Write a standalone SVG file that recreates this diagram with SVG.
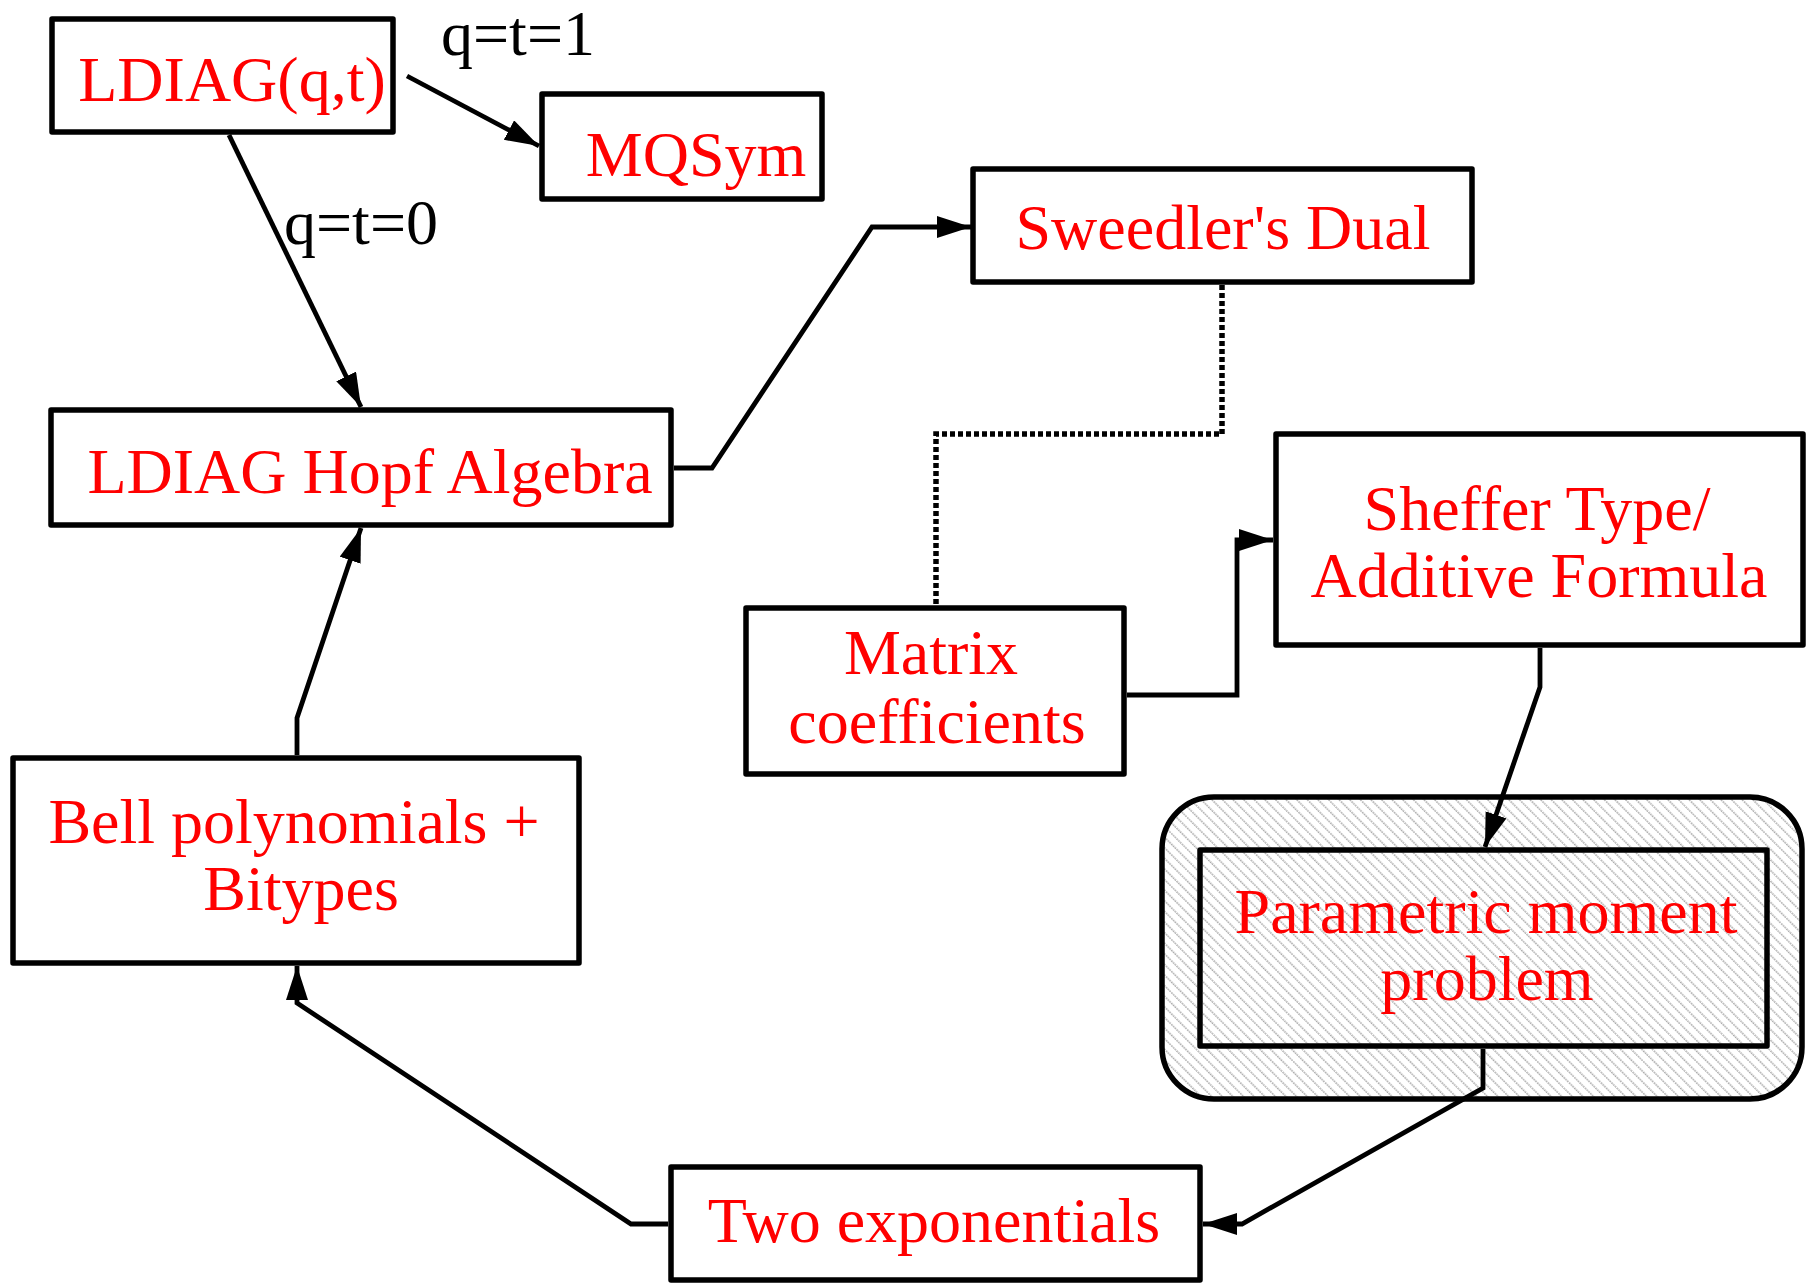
<svg xmlns="http://www.w3.org/2000/svg" width="1806" height="1283" viewBox="0 0 1806 1283">
<style>
.box{fill:#fff;stroke:#000;stroke-width:5.5;stroke-linejoin:round}
.hbox{fill:url(#hatch);stroke:#000;stroke-width:5.5;stroke-linejoin:round}
.lbl{font-family:"Liberation Serif","Times New Roman",serif;font-size:64px;fill:#ff0000;text-anchor:middle}
.edge{font-family:"Liberation Serif","Times New Roman",serif;font-size:64px;fill:#000}
.conn{fill:none;stroke:#000;stroke-width:4.8;stroke-linejoin:miter}
.dot{fill:none;stroke:#000;stroke-width:5.5;stroke-dasharray:5 3}
</style>
<defs>
<pattern id="hatch" patternUnits="userSpaceOnUse" width="7.5" height="7.5" patternTransform="rotate(45)">
<rect width="7.5" height="7.5" fill="#ffffff"/>
<line x1="0" y1="1" x2="7.5" y2="1" stroke="#8c8c8c" stroke-width="1.1" stroke-dasharray="1.6 0.9"/>
</pattern>
<marker id="arr" markerUnits="userSpaceOnUse" markerWidth="36" markerHeight="24" refX="34" refY="11" orient="auto">
<path d="M0,0 L34,11 L0,22 Z" fill="#000"/>
</marker>
</defs>

<g id="node-ldiag-qt">
<rect class="box" x="52" y="19" width="341" height="113"/>
<text class="lbl" x="232" y="101">LDIAG(q,t)</text>
</g>
<g id="node-mqsym">
<rect class="box" x="542" y="94" width="280" height="105"/>
<text class="lbl" x="696" y="176">MQSym</text>
</g>
<g id="node-sweedler">
<rect class="box" x="973" y="169" width="499" height="113"/>
<text class="lbl" x="1223" y="249">Sweedler's Dual</text>
</g>
<g id="node-hopf">
<rect class="box" x="51" y="410" width="620" height="115"/>
<text class="lbl" x="370" y="493">LDIAG Hopf Algebra</text>
</g>
<g id="node-matrix">
<rect class="box" x="746" y="608" width="378" height="166"/>
<text class="lbl" x="931" y="674">Matrix</text>
<text class="lbl" x="937" y="743">coefficients</text>
</g>
<g id="node-sheffer">
<rect class="box" x="1276" y="434" width="527" height="211"/>
<text class="lbl" x="1537" y="530">Sheffer Type/</text>
<text class="lbl" x="1539" y="597">Additive Formula</text>
</g>
<g id="node-parametric">
<rect class="hbox" x="1162" y="797" width="640" height="302" rx="52" ry="52"/>
<rect class="hbox" x="1200" y="850" width="567" height="196"/>
<text class="lbl" x="1486" y="933">Parametric moment</text>
<text class="lbl" x="1487" y="1000">problem</text>
</g>
<g id="node-bell">
<rect class="box" x="13" y="758" width="566" height="205"/>
<text class="lbl" x="294" y="843">Bell polynomials +</text>
<text class="lbl" x="301" y="910">Bitypes</text>
</g>
<g id="node-twoexp">
<rect class="box" x="671" y="1167" width="529" height="113"/>
<text class="lbl" x="934" y="1242">Two exponentials</text>
</g>

<g id="connectors">
<line class="conn" x1="407" y1="76" x2="539" y2="146" marker-end="url(#arr)"/>
<line class="conn" x1="229" y1="135" x2="361" y2="407" marker-end="url(#arr)"/>
<polyline class="conn" points="674,468 712,468 872,227 971,227" marker-end="url(#arr)"/>
<polyline class="dot" points="1222,285 1222,434 936,434 936,605"/>
<polyline class="conn" points="1127,695 1237,695 1237,540 1273,540" marker-end="url(#arr)"/>
<polyline class="conn" points="1540,648 1540,687 1485,847" marker-end="url(#arr)"/>
<polyline class="conn" points="1483,1049 1483,1088 1242,1224 1203,1224" marker-end="url(#arr)"/>
<polyline class="conn" points="668,1224 631,1224 297,1003 297,966" marker-end="url(#arr)"/>
<polyline class="conn" points="297,755 297,718 361,528" marker-end="url(#arr)"/>
<text class="edge" x="441" y="55">q=t=1</text>
<text class="edge" x="284" y="244">q=t=0</text>
</g>
</svg>
